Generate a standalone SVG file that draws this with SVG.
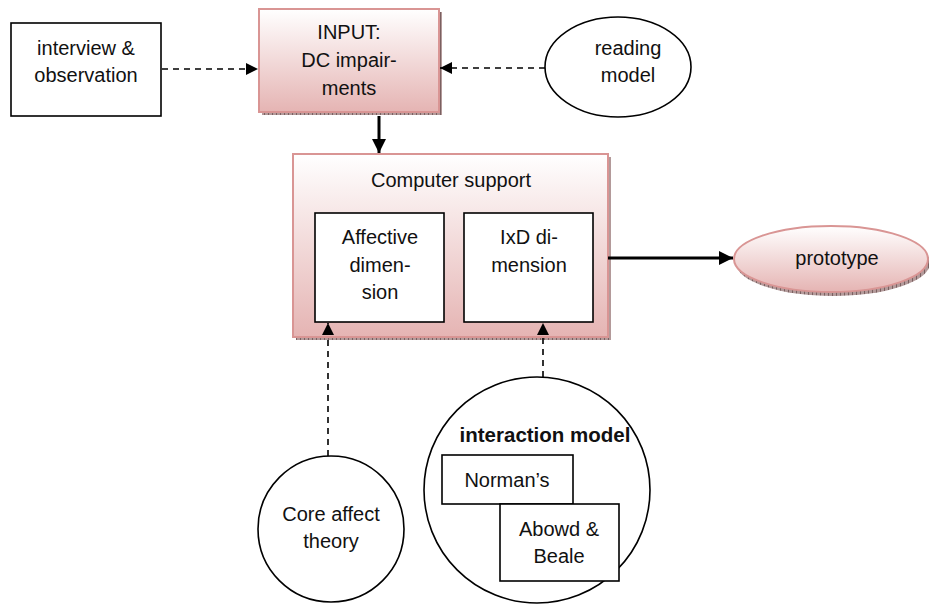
<svg xmlns="http://www.w3.org/2000/svg" width="929" height="609" viewBox="0 0 929 609">
<style>
text{font-family:"Liberation Sans",Arial,sans-serif;font-size:20px;fill:#111;text-anchor:middle}
.b{font-weight:bold;font-size:20.5px}
.plain{fill:#fff;stroke:#000;stroke-width:1.6}
.pink{fill:url(#g);stroke:#d99594;stroke-width:2}
.sh{fill:url(#hatch)}
.dash{fill:none;stroke:#000;stroke-width:1.6;stroke-dasharray:6 5}
.solid{fill:none;stroke:#000;stroke-width:3}
</style>
<defs>
<linearGradient id="g" x1="0" y1="0" x2="0" y2="1">
<stop offset="0" stop-color="#ffffff"/>
<stop offset="1" stop-color="#e5b4b3"/>
</linearGradient>
<pattern id="hatch" width="4" height="4" patternUnits="userSpaceOnUse">
<rect width="4" height="4" fill="#b39a9a"/>
<rect width="1" height="4" fill="#7a6060"/>
</pattern>
<marker id="ah" viewBox="0 0 10 10" refX="10" refY="5" markerWidth="12" markerHeight="12" markerUnits="userSpaceOnUse" orient="auto">
<path d="M0,0 L10,5 L0,10 z" fill="#000"/>
</marker>
<marker id="ah2" viewBox="0 0 10 10" refX="10" refY="5" markerWidth="14" markerHeight="14" markerUnits="userSpaceOnUse" orient="auto">
<path d="M0,0 L10,5 L0,10 z" fill="#000"/>
</marker>
</defs>

<g id="interview">
<rect class="plain" x="11" y="23" width="150" height="93"/>
<text x="86" y="55">interview &amp;</text>
<text x="86" y="82">observation</text>
</g>

<g id="input">
<rect class="sh" x="262" y="12" width="180" height="103"/>
<rect class="pink" x="259" y="9" width="180" height="103"/>
<text x="349" y="39">INPUT:</text>
<text x="349" y="67">DC impair-</text>
<text x="349" y="95">ments</text>
</g>

<g id="reading">
<ellipse class="plain" cx="618" cy="67" rx="73" ry="50"/>
<text x="628" y="55">reading</text>
<text x="628" y="82">model</text>
</g>

<g id="computer">
<rect class="sh" x="296" y="157" width="315" height="183"/>
<rect class="pink" x="293" y="154" width="315" height="183"/>
<text x="451" y="187">Computer support</text>
</g>

<g id="affective">
<rect class="plain" x="315" y="213" width="129" height="109"/>
<text x="380" y="244">Affective</text>
<text x="380" y="272">dimen-</text>
<text x="380" y="299">sion</text>
</g>

<g id="ixd">
<rect class="plain" x="464" y="213" width="129" height="109"/>
<text x="529" y="244">IxD di-</text>
<text x="529" y="272">mension</text>
</g>

<g id="prototype">
<ellipse class="sh" cx="833" cy="263" rx="97" ry="33"/>
<ellipse class="pink" cx="831" cy="259" rx="97" ry="33"/>
<text x="837" y="265">prototype</text>
</g>

<g id="coreaffect">
<circle class="plain" cx="331" cy="529" r="73"/>
<text x="331" y="521">Core affect</text>
<text x="331" y="548">theory</text>
</g>

<g id="interaction">
<circle class="plain" cx="537" cy="490" r="113"/>
<text class="b" x="545" y="442">interaction model</text>
</g>

<g id="normans">
<rect class="plain" x="442" y="455" width="131" height="49"/>
<text x="507" y="487">Norman’s</text>
</g>

<g id="abowd">
<rect class="plain" x="500" y="504" width="119" height="77"/>
<text x="559" y="536">Abowd &amp;</text>
<text x="559" y="563">Beale</text>
</g>

<g id="connectors">
<line class="dash" x1="162" y1="69" x2="258" y2="69" marker-end="url(#ah)"/>
<line class="dash" x1="545" y1="68" x2="440" y2="68" marker-end="url(#ah)"/>
<line class="solid" x1="379" y1="116" x2="379" y2="153" marker-end="url(#ah2)"/>
<line class="solid" x1="608" y1="258" x2="733" y2="258" marker-end="url(#ah2)"/>
<line class="dash" x1="328" y1="456" x2="328" y2="323" marker-end="url(#ah)"/>
<line class="dash" x1="543" y1="377" x2="543" y2="323" marker-end="url(#ah)"/>
</g>
</svg>
